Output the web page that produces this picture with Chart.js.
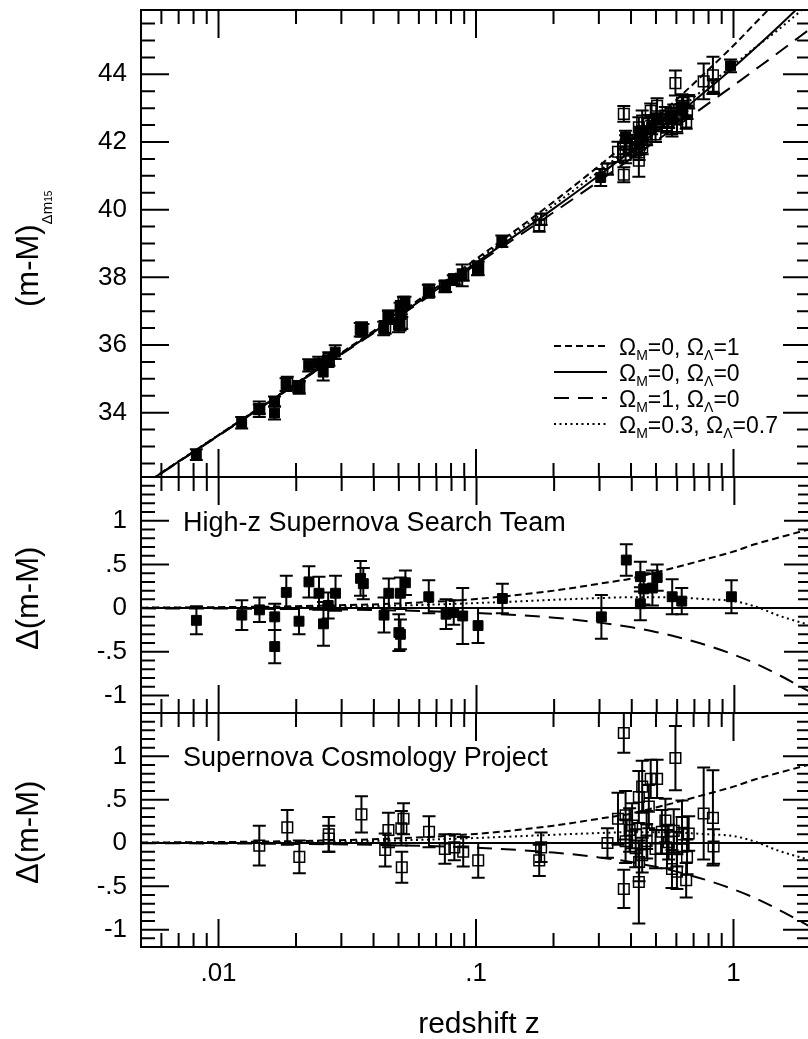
<!DOCTYPE html>
<html>
<head>
<meta charset="utf-8">
<script src="https://cdn.jsdelivr.net/npm/chart.js@4.4.1/dist/chart.umd.min.js"></script>
<style>
html, body { margin: 0; padding: 0; background: #fff; overflow: hidden; width: 808px; height: 1039px; }
canvas { position: absolute; left: 0; top: 0; }
</style>
</head>
<body>
<canvas id="topChart" width="820" height="1039"></canvas>
<canvas id="midChart" width="820" height="1039"></canvas>
<canvas id="botChart" width="820" height="1039"></canvas>
<script>
// High-z Supernova Search Team (filled squares)
const hzZ   = [0.0082, 0.0123, 0.0144, 0.0165, 0.0165, 0.0183, 0.0205, 0.0224, 0.0245, 0.0255, 0.0266, 0.0284,
               0.0355, 0.0364, 0.0438, 0.0457, 0.0507, 0.0530, 0.0507, 0.0500, 0.0653, 0.0762, 0.0816, 0.0884,
               0.1014, 0.126, 0.305, 0.381, 0.432, 0.432, 0.445, 0.481, 0.502, 0.574, 0.625, 0.974];
const hzMu  = [32.76, 33.70, 34.11, 34.33, 33.99, 34.83, 34.75, 35.40, 35.46, 35.20, 35.50, 35.79,
               36.45, 36.44, 36.49, 36.84, 37.07, 37.29, 36.60, 36.59, 37.59, 37.74, 37.92, 38.06,
               38.26, 39.07, 40.95, 42.15, 42.28, 41.97, 42.22, 42.43, 42.66, 42.79, 42.97, 44.25];
const hzRes = [-0.14, -0.08, -0.02, -0.10, -0.44, 0.18, -0.15, 0.30, 0.17, -0.18, 0.03, 0.17,
               0.34, 0.28, -0.08, 0.17, 0.17, 0.29, -0.30, -0.28, 0.13, -0.07, -0.05, -0.09,
               -0.20, 0.11, -0.10, 0.55, 0.36, 0.05, 0.22, 0.23, 0.35, 0.13, 0.08, 0.13];
const hzErr = [0.16, 0.17, 0.14, 0.15, 0.19, 0.19, 0.15, 0.18, 0.19, 0.25, 0.15, 0.20,
               0.20, 0.18, 0.20, 0.17, 0.18, 0.14, 0.17, 0.21, 0.19, 0.17, 0.14, 0.32,
               0.20, 0.17, 0.25, 0.18, 0.17, 0.19, 0.18, 0.20, 0.15, 0.20, 0.15, 0.19];

// Supernova Cosmology Project (open squares)
const scpZ   = [0.0144, 0.0185, 0.0206, 0.0268, 0.0268, 0.0359, 0.0444, 0.0457, 0.0523, 0.0513,
                0.0515, 0.0657, 0.0757, 0.0824, 0.0892, 0.102, 0.176, 0.179, 0.324, 0.356,
                0.375, 0.375, 0.381, 0.381, 0.395, 0.404, 0.417, 0.429, 0.429, 0.442,
                0.442, 0.430, 0.469, 0.460, 0.477, 0.505, 0.498, 0.460, 0.527, 0.544,
                0.552, 0.560, 0.577, 0.586, 0.595, 0.603, 0.603, 0.631, 0.631, 0.660,
                0.655, 0.670, 0.766, 0.832, 0.837];
const scpMu  = [34.10, 34.86, 34.75, 35.59, 35.54, 36.46, 36.52, 36.82, 37.25, 37.10,
                36.65, 37.61, 37.73, 37.94, 38.07, 38.27, 39.53, 39.72, 41.20, 41.71,
                42.83, 41.03, 41.92, 41.62, 41.84, 41.95, 41.77, 42.43, 41.45, 42.63,
                41.84, 41.69, 42.55, 42.23, 42.92, 43.07, 42.22, 42.10, 42.57, 42.78,
                42.49, 42.61, 42.38, 42.86, 43.74, 42.46, 42.72, 43.16, 43.02, 42.88,
                42.59, 43.19, 43.79, 43.97, 43.65];
const scpRes = [-0.03, 0.18, -0.16, 0.10, 0.05, 0.33, -0.08, 0.15, 0.28, 0.17,
                -0.28, 0.13, -0.07, -0.05, -0.10, -0.20, -0.20, -0.05, 0.00, 0.28,
                1.27, -0.53, 0.32, 0.02, 0.15, 0.20, -0.06, 0.53, -0.45, 0.65,
                -0.14, -0.22, 0.42, 0.15, 0.74, 0.74, -0.07, 0.02, 0.13, 0.26,
                -0.07, 0.01, -0.30, 0.14, 0.98, -0.33, -0.07, 0.24, 0.10, -0.16,
                -0.43, 0.11, 0.34, 0.29, -0.04];
const scpErr = [0.23, 0.20, 0.19, 0.20, 0.15, 0.21, 0.19, 0.20, 0.18, 0.20,
                0.18, 0.18, 0.17, 0.15, 0.17, 0.20, 0.18, 0.17, 0.17, 0.30,
                0.23, 0.22, 0.28, 0.25, 0.25, 0.26, 0.22, 0.30, 0.48, 0.30,
                0.20, 0.22, 0.25, 0.22, 0.22, 0.22, 0.22, 0.20, 0.25, 0.25,
                0.22, 0.20, 0.22, 0.25, 0.37, 0.20, 0.20, 0.25, 0.20, 0.20,
                0.20, 0.20, 0.53, 0.55, 0.20];

// model curves, read at these redshifts
const modelZ    = [0.005, 0.01, 0.02, 0.05, 0.1, 0.2, 0.3, 0.4, 0.5, 0.6, 0.8, 1.0, 1.2, 1.5, 2.0];
const muLambda  = [31.83, 33.34, 34.87, 36.92, 38.54, 40.23, 41.29, 42.07, 42.71, 43.25, 44.14, 44.85, 45.47, 46.23, 47.24];
const muEmpty   = [31.82, 33.33, 34.85, 36.87, 38.43, 40.03, 41.01, 41.73, 42.30, 42.78, 43.57, 44.20, 44.74, 45.42, 46.33];
const muMatter  = [31.82, 33.32, 34.84, 36.84, 38.38, 39.92, 40.84, 41.51, 42.03, 42.45, 43.14, 43.67, 44.11, 44.65, 45.36];
const muFlat    = [31.82, 33.34, 34.86, 36.90, 38.49, 40.13, 41.13, 41.86, 42.43, 42.90, 43.67, 44.28, 44.76, 45.33, 46.13];
const resLambda = [0.005, 0.011, 0.022, 0.054, 0.105, 0.20, 0.28, 0.34, 0.41, 0.47, 0.57, 0.65, 0.73, 0.81, 0.91];
const resEmpty  = [0, 0, 0, 0, 0, 0, 0, 0, 0, 0, 0, 0, 0, 0, 0];
const resMatter = [-0.003, -0.005, -0.011, -0.027, -0.055, -0.11, -0.166, -0.22, -0.275, -0.33, -0.435, -0.535, -0.63, -0.77, -0.97];
const resFlat   = [0.003, 0.006, 0.012, 0.03, 0.058, 0.095, 0.115, 0.125, 0.125, 0.12, 0.10, 0.08, 0.02, -0.09, -0.20];

// legend
const legendOmegaM = ['0', '0', '1', '0.3'];
const legendOmegaL = ['1', '0', '0', '0.7'];

// axes
const xTicks      = [0.01, 0.1, 1];
const xTickLabels = ['.01', '.1', '1'];
const topYTicks   = [34, 36, 38, 40, 42, 44];
const topYLabels  = ['34', '36', '38', '40', '42', '44'];
const resYTicks   = [-1, -0.5, 0, 0.5, 1];
const resYLabels  = ['-1', '-.5', '0', '.5', '1'];

const panelNames = ['High-z Supernova Search Team', 'Supernova Cosmology Project'];
const xTitle = 'redshift z';

const FONT = '"Liberation Sans", Arial, Helvetica, sans-serif';
const W = 820, H = 1039;
const PLOT_LEFT = 141, PLOT_RIGHT = 814;
const PANEL_TOP = [10, 477, 713];
const PANEL_BOTTOM = [477, 713, 947];
const MODEL_DASH = [[7, 4], [], [15, 9], [2, 3.5]];

function range(a, b, step) {
    const out = [];
    for (let v = a; v <= b + 1e-9; v += step) out.push(Math.round(v * 1000) / 1000);
    return out;
}

function pts(xs, ys) {
    return xs.map((x, i) => ({ x, y: ys[i] }));
}

function modelSets(series) {
    return series.map((ys, k) => ({
        data: pts(modelZ, ys),
        showLine: true,
        borderColor: '#000',
        borderWidth: 2,
        borderDash: MODEL_DASH[k],
        pointRadius: 0,
        fill: false,
        cubicInterpolationMode: 'monotone'
    }));
}

function snSet(z, y, err, filled) {
    return {
        data: pts(z, y),
        errors: err,
        pointStyle: 'rect',
        pointRadius: filled ? 7 : 7.5,
        backgroundColor: filled ? '#000' : 'rgba(0,0,0,0)',
        borderColor: '#000',
        borderWidth: filled ? 1 : 1.5
    };
}

// minor x ticks 2..9 in each decade
const xMinor = [];
[0.001, 0.01, 0.1, 1].forEach(d => {
    for (let k = 2; k <= 9; k++) xMinor.push(Math.round(d * k * 10000) / 10000);
});

const errorBars = {
    id: 'errorBars',
    beforeDatasetsDraw(chart) {
        const { ctx, chartArea: a } = chart;
        const y = chart.scales.y;
        ctx.save();
        ctx.beginPath();
        ctx.rect(a.left, a.top, a.right - a.left, a.bottom - a.top);
        ctx.clip();
        ctx.strokeStyle = '#000';
        ctx.lineWidth = 2;
        chart.data.datasets.forEach((ds, i) => {
            if (!ds.errors) return;
            chart.getDatasetMeta(i).data.forEach((pt, j) => {
                const v = ds.data[j].y, e = ds.errors[j];
                const y1 = y.getPixelForValue(v + e), y2 = y.getPixelForValue(v - e);
                ctx.beginPath();
                ctx.moveTo(pt.x, y1); ctx.lineTo(pt.x, y2);
                ctx.moveTo(pt.x - 6.5, y1); ctx.lineTo(pt.x + 6.5, y1);
                ctx.moveTo(pt.x - 6.5, y2); ctx.lineTo(pt.x + 6.5, y2);
                ctx.stroke();
            });
        });
        ctx.restore();
    }
};

function framePlugin(yMajor, yMinor) {
    return {
        id: 'frame',
        afterDraw(chart) {
            const { ctx, chartArea: a } = chart;
            const xs = chart.scales.x, ys = chart.scales.y;
            ctx.save();
            ctx.strokeStyle = '#000';
            ctx.lineWidth = 2;
            ctx.beginPath();
            ctx.moveTo(a.left, a.top - 1); ctx.lineTo(a.left, a.bottom + 1);
            ctx.moveTo(a.right, a.top - 1); ctx.lineTo(a.right, a.bottom + 1);
            ctx.moveTo(a.left, a.top); ctx.lineTo(a.right, a.top);
            ctx.moveTo(a.left, a.bottom); ctx.lineTo(a.right, a.bottom);
            const yTick = (v, len) => {
                const p = ys.getPixelForValue(v);
                ctx.moveTo(a.left, p); ctx.lineTo(a.left + len, p);
                ctx.moveTo(a.right, p); ctx.lineTo(a.right - len, p);
            };
            yMinor.forEach(v => yTick(v, 14));
            yMajor.forEach(v => yTick(v, 28));
            const xTick = (v, len) => {
                const p = xs.getPixelForValue(v);
                if (p <= a.left + 1 || p >= a.right - 1) return;
                ctx.moveTo(p, a.top); ctx.lineTo(p, a.top + len);
                ctx.moveTo(p, a.bottom); ctx.lineTo(p, a.bottom - len);
            };
            xMinor.forEach(v => xTick(v, 14));
            xTicks.forEach(v => xTick(v, 28));
            ctx.stroke();
            ctx.restore();
        }
    };
}

function drawRich(ctx, x, y, segs) {
    let cx = x;
    segs.forEach(s => {
        ctx.font = s.size + 'px ' + FONT;
        ctx.fillText(s.t, cx, y + (s.dy || 0));
        cx += ctx.measureText(s.t).width;
    });
}

function drawRotated(ctx, x, y, segs) {
    ctx.save();
    ctx.translate(x, y);
    ctx.rotate(-Math.PI / 2);
    ctx.textAlign = 'left';
    ctx.textBaseline = 'alphabetic';
    drawRich(ctx, 0, 0, segs);
    ctx.restore();
}

function textPlugin(drawFn) {
    return {
        id: 'texts',
        afterDraw(chart) {
            const ctx = chart.ctx;
            ctx.save();
            ctx.fillStyle = '#000';
            drawFn(ctx, chart);
            ctx.restore();
        }
    };
}

const drawTopTexts = (ctx) => {
    drawRotated(ctx, 38, 307, [
        { t: '(m-M)', size: 31 },
        { t: '\u0394m', size: 15, dy: 14 },
        { t: '15', size: 10, dy: 14 }
    ]);
    // legend
    ctx.textAlign = 'left';
    ctx.textBaseline = 'alphabetic';
    ctx.strokeStyle = '#000';
    ctx.lineWidth = 2;
    legendOmegaM.forEach((om, k) => {
        const base = 355 + k * 26;
        ctx.setLineDash(MODEL_DASH[k]);
        ctx.beginPath();
        ctx.moveTo(554, base - 9);
        ctx.lineTo(607, base - 9);
        ctx.stroke();
        ctx.setLineDash([]);
        drawRich(ctx, 619, base, [
            { t: '\u03A9', size: 23 },
            { t: 'M', size: 14, dy: 5 },
            { t: '=' + om + ', \u03A9', size: 23 },
            { t: '\u039B', size: 14, dy: 5 },
            { t: '=' + legendOmegaL[k], size: 23 }
        ]);
    });
};

const drawMidTexts = (ctx) => {
    drawRotated(ctx, 38, 650, [{ t: '\u0394(m-M)', size: 31 }]);
    ctx.textAlign = 'left';
    ctx.textBaseline = 'alphabetic';
    ctx.font = '27px ' + FONT;
    ctx.fillText(panelNames[0], 183, 531);
};

const drawBotTexts = (ctx) => {
    drawRotated(ctx, 38, 884, [{ t: '\u0394(m-M)', size: 31 }]);
    ctx.textAlign = 'left';
    ctx.textBaseline = 'alphabetic';
    ctx.font = '27px ' + FONT;
    ctx.fillText(panelNames[1], 183, 766);
    ctx.textAlign = 'center';
    ctx.font = '30px ' + FONT;
    ctx.fillText(xTitle, 479, 1033);
};

function makePanel(id, idx, yMin, yMax, yTicks, yLabels, yMinor, datasets, drawFn) {
    const isBottom = idx === 2;
    return new Chart(document.getElementById(id).getContext('2d'), {
        type: 'scatter',
        data: { datasets },
        options: {
            responsive: false,
            animation: false,
            devicePixelRatio: 1,
            events: [],
            layout: {
                padding: {
                    top: PANEL_TOP[idx],
                    bottom: isBottom ? 0 : H - PANEL_BOTTOM[idx],
                    left: 0,
                    right: W - PLOT_RIGHT
                }
            },
            plugins: { legend: { display: false }, tooltip: { enabled: false } },
            scales: {
                x: {
                    type: 'logarithmic',
                    min: 0.005,
                    max: 2,
                    display: isBottom,
                    grid: { display: false, drawTicks: false },
                    border: { display: false },
                    ticks: {
                        autoSkip: false,
                        maxRotation: 0,
                        padding: 11,
                        color: '#000',
                        font: { family: FONT, size: 26 },
                        callback: (v, i) => xTickLabels[i]
                    },
                    afterBuildTicks: s => { s.ticks = xTicks.map(v => ({ value: v })); },
                    afterFit: s => {
                        if (isBottom) s.height = H - PANEL_BOTTOM[2];
                        s.paddingLeft = 0; s.paddingRight = 0;
                    }
                },
                y: {
                    type: 'linear',
                    min: yMin,
                    max: yMax,
                    grid: { display: false, drawTicks: false },
                    border: { display: false },
                    ticks: {
                        autoSkip: false,
                        padding: 14,
                        color: '#000',
                        font: { family: FONT, size: 26 },
                        callback: (v, i) => yLabels[i]
                    },
                    afterBuildTicks: s => { s.ticks = yTicks.map(v => ({ value: v })); },
                    afterFit: s => {
                        s.width = PLOT_LEFT;
                        s.paddingTop = 0; s.paddingBottom = 0;
                    }
                }
            }
        },
        plugins: [errorBars, framePlugin(yTicks, yMinor), textPlugin(drawFn)]
    });
}

makePanel('topChart', 0, 32.1, 45.9, topYTicks, topYLabels, range(32.5, 45.5, 0.5),
    modelSets([muLambda, muEmpty, muMatter, muFlat]).concat([
        snSet(scpZ, scpMu, scpErr, false),
        snSet(hzZ, hzMu, hzErr, true)
    ]), drawTopTexts);

makePanel('midChart', 1, -1.2, 1.5, resYTicks, resYLabels, range(-1.2, 1.5, 0.1),
    modelSets([resLambda, resEmpty, resMatter, resFlat]).concat([
        snSet(hzZ, hzRes, hzErr, true)
    ]), drawMidTexts);

makePanel('botChart', 2, -1.2, 1.5, resYTicks, resYLabels, range(-1.2, 1.5, 0.1),
    modelSets([resLambda, resEmpty, resMatter, resFlat]).concat([
        snSet(scpZ, scpRes, scpErr, false)
    ]), drawBotTexts);
</script>
</body>
</html>
